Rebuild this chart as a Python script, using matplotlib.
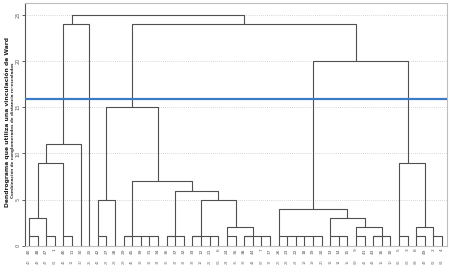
import numpy as np
import matplotlib
matplotlib.use('agg')
import matplotlib.pyplot as plt

# orden de las hojas (casos) de izquierda a derecha
case_labels = ['40', '48', '47', '1', '46', '11', '30', '25', '42', '27', '28', '29', '45', '39',
               '31', '34', '36', '37', '32', '33', '12', '21', '6', '24', '35', '38', '44', '7',
               '17', '26', '23', '22', '18', '19', '20', '13', '14', '15', '9', '41', '43', '16',
               '10', '5', '3', '8', '49', '2', '4']
case_codes = ['40', '48', '47', '01', '46', '11', '30', '25', '42', '27', '28', '29', '45', '39',
              '31', '34', '36', '37', '32', '33', '12', '21', '06', '24', '35', '38', '44', '07',
              '17', '26', '23', '22', '18', '19', '20', '13', '14', '15', '09', '41', '43', '16',
              '10', '05', '03', '08', '49', '02', '04']

# uniones: (hijo_izq, hijo_der, distancia re-escalada); ids < n son hojas, ids >= n son uniones previas
n = len(case_labels)
merges = [
    (0, 1, 1.0), (2, 3, 1.0), (49, 50, 3.0), (4, 5, 1.0), (51, 52, 9.0), (53, 6, 11.0), (54, 7, 24.0),
    (8, 9, 1.0), (56, 10, 5.0),
    (11, 12, 1.0), (14, 15, 1.0), (13, 59, 1.0), (58, 60, 1.0),
    (16, 17, 1.0), (62, 18, 1.0),
    (19, 20, 1.0), (21, 22, 1.0), (64, 65, 1.0),
    (23, 24, 1.0), (25, 26, 1.0), (27, 28, 1.0), (68, 69, 1.0), (67, 70, 2.0),
    (66, 71, 5.0), (63, 72, 5.93), (61, 73, 7.0), (57, 74, 15.0),
    (33, 34, 1.0), (32, 76, 1.0), (31, 77, 1.0), (30, 78, 1.0), (29, 79, 1.0),
    (36, 37, 1.0), (35, 81, 1.0),
    (38, 39, 1.0), (40, 41, 1.0), (84, 42, 1.0), (83, 85, 2.0), (82, 86, 3.0), (80, 87, 3.95),
    (43, 44, 1.0), (45, 46, 1.0), (47, 48, 1.0), (90, 91, 2.0), (89, 92, 9.0),
    (88, 93, 20.0), (75, 94, 24.0), (55, 95, 25.0),
]
cut_height = 15.9
yticks = [0, 5, 10, 15, 20, 25]

fig = plt.figure(figsize=(4.5, 2.72), dpi=100)
ax = fig.add_axes([0.0556, 0.0967, 0.9377, 0.8933])

pos = {i: float(i) for i in range(n)}
hgt = {i: 0.0 for i in range(n)}
lc = '#505050'
for k, (a, b, h) in enumerate(merges):
    xa, xb = pos[a], pos[b]
    ax.plot([xa, xa, xb, xb], [hgt[a], h, h, hgt[b]], color=lc, lw=0.8, solid_capstyle='butt', zorder=3)
    # como en SPSS, el conglomerado sigue desde la fila central (redondeada hacia abajo)
    pos[n + k] = float(np.floor((xa + xb) / 2.0))
    hgt[n + k] = h

ax.axhline(cut_height, color='#3a7cc8', lw=1.6, zorder=4)

ax.set_xlim(-0.465, 48.58)
ax.set_ylim(0, 26.33)
ax.set_yticks(yticks)
ax.set_yticklabels([str(t) for t in yticks], rotation=90, va='center', fontsize=3.5, color='#555555')
ax.tick_params(axis='y', length=2, width=0.6, pad=1.5, color='#444444')
ax.set_xticks(range(n))
ax.set_xticklabels(case_labels, rotation=90, fontsize=3.2, color='#555555')
ax.tick_params(axis='x', length=0, pad=2)
for t in yticks[1:]:
    ax.axhline(t, color='#c8c8c8', lw=0.6, ls=(0, (1, 1.5)), zorder=1)

for s in ['top', 'right', 'bottom']:
    ax.spines[s].set_color('#bdbdbd')
    ax.spines[s].set_linewidth(0.8)
ax.spines['left'].set_color('#555555')
ax.spines['left'].set_linewidth(0.8)

# segunda fila de etiquetas
for i, c in enumerate(case_codes):
    ax.text(i, -0.055, c, transform=ax.get_xaxis_transform(), rotation=90, ha='center', va='top',
            fontsize=2.6, color='#777777')

fig.text(0.016, 0.55, 'Dendrograma que utiliza una vinculación de Ward', rotation=90,
         ha='center', va='center', fontsize=4.3, fontweight='bold', color='#222222')
fig.text(0.030, 0.52, 'Combinación de conglomerados de distancia re-escalados', rotation=90,
         ha='center', va='center', fontsize=3.0, fontweight='bold', color='#333333')

fig.savefig('out.png', dpi=100)
